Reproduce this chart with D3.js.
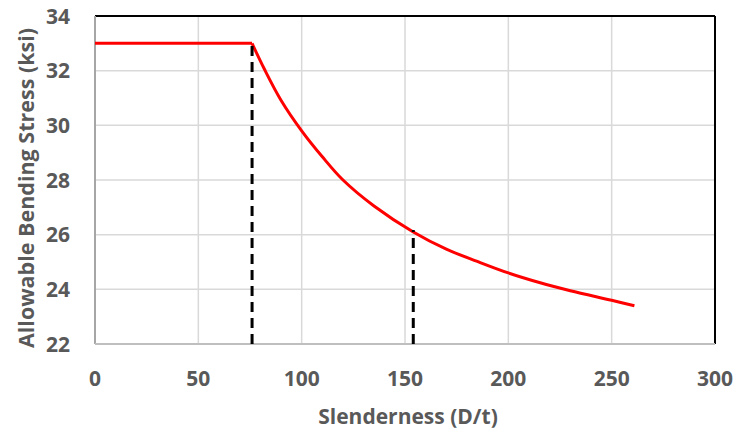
<!DOCTYPE html>
<html>
<head>
<meta charset="utf-8">
<script src="https://cdn.jsdelivr.net/npm/d3@7"></script>
<style>
  html, body { margin: 0; padding: 0; background: #fff; }
  svg { display: block; }
</style>
</head>
<body>
<svg id="chart" width="735" height="432"></svg>
<script>
// values
const slenderness = [0, 76, 82, 90, 100, 110, 120, 135, 154, 170, 185, 200, 215, 230, 250, 261];
const stress      = [33, 33, 32.05, 30.92, 29.8, 28.85, 28.0, 27.05, 26.1, 25.47, 25.02, 24.6, 24.25, 23.95, 23.6, 23.4];
const limitLines  = [76, 154];           // dashed vertical markers
const xTicks = [0, 50, 100, 150, 200, 250, 300];
const yTicks = [22, 24, 26, 28, 30, 32, 34];

const margin = { top: 16, right: 20, bottom: 88, left: 95 };
const W = 735, H = 432;
const svg = d3.select("#chart");
const font = "'Open Sans', sans-serif";
const grey = "#595959";

const x = d3.scaleLinear().domain([0, 300]).range([margin.left, W - margin.right]);
const y = d3.scaleLinear().domain([22, 34]).range([H - margin.bottom, margin.top]);

// grid
svg.append("g").selectAll("line")
    .data(xTicks)
    .join("line")
    .attr("x1", d => x(d)).attr("x2", d => x(d))
    .attr("y1", y(22)).attr("y2", y(34))
    .attr("stroke", "#d9d9d9").attr("stroke-width", 1.5);

svg.append("g").selectAll("line")
    .data(yTicks)
    .join("line")
    .attr("x1", x(0)).attr("x2", x(300))
    .attr("y1", d => y(d)).attr("y2", d => y(d))
    .attr("stroke", "#d9d9d9").attr("stroke-width", 1.5);

// frame: black top/right, grey axis lines left/bottom
svg.append("line")
    .attr("x1", x(0)).attr("x2", x(300)).attr("y1", y(34)).attr("y2", y(34))
    .attr("stroke", "#000").attr("stroke-width", 2);
svg.append("line")
    .attr("x1", x(300)).attr("x2", x(300)).attr("y1", y(34)).attr("y2", y(22))
    .attr("stroke", "#000").attr("stroke-width", 2);
svg.append("line")
    .attr("x1", x(0)).attr("x2", x(0)).attr("y1", y(34)).attr("y2", y(22))
    .attr("stroke", "#a6a6a6").attr("stroke-width", 2);
svg.append("line")
    .attr("x1", x(0)).attr("x2", x(300)).attr("y1", y(22)).attr("y2", y(22))
    .attr("stroke", "#bfbfbf").attr("stroke-width", 2);

// tick labels
svg.append("g").selectAll("text")
    .data(xTicks)
    .join("text")
    .attr("x", d => x(d))
    .attr("y", 386)
    .attr("text-anchor", "middle")
    .attr("font-family", font).attr("font-weight", 700).attr("font-size", "21px")
    .attr("fill", grey)
    .text(d => d);

svg.append("g").selectAll("text")
    .data(yTicks)
    .join("text")
    .attr("x", 70)
    .attr("y", d => y(d))
    .attr("dy", "0.36em")
    .attr("text-anchor", "end")
    .attr("font-family", font).attr("font-weight", 700).attr("font-size", "21px")
    .attr("fill", grey)
    .text(d => d);

// axis titles
svg.append("text")
    .attr("x", x(150) + 3)
    .attr("y", 424)
    .attr("text-anchor", "middle")
    .attr("font-family", font).attr("font-weight", 700).attr("font-size", "21px")
    .attr("fill", grey)
    .text("Slenderness (D/t)");

svg.append("text")
    .attr("transform", "translate(34,188) rotate(-90)")
    .attr("text-anchor", "middle")
    .attr("font-family", font).attr("font-weight", 700).attr("font-size", "21.5px")
    .attr("fill", grey)
    .text("Allowable Bending Stress (ksi)");

// curve: flat plateau, then the smooth decay
const pts = slenderness.map((d, i) => [d, stress[i]]);

svg.append("path")
    .datum(pts.slice(0, 2))
    .attr("d", d3.line().x(d => x(d[0])).y(d => y(d[1])))
    .attr("fill", "none").attr("stroke", "#ff0000").attr("stroke-width", 3);
svg.append("path")
    .datum(pts.slice(1))
    .attr("d", d3.line().x(d => x(d[0])).y(d => y(d[1])).curve(d3.curveCatmullRom.alpha(0.5)))
    .attr("fill", "none").attr("stroke", "#ff0000").attr("stroke-width", 3)
    .attr("stroke-linejoin", "round");

// dashed limit lines up to the curve
const stressAt = v => {
    const i = slenderness.indexOf(v);
    return i >= 0 ? stress[i] : 22;
};
svg.append("g").selectAll("line")
    .data(limitLines)
    .join("line")
    .attr("x1", d => x(d)).attr("x2", d => x(d))
    .attr("y1", y(22))
    .attr("y2", d => y(stressAt(d)) - 2)
    .attr("stroke", "#000").attr("stroke-width", 3)
    .attr("stroke-dasharray", "10 6");
</script>
</body>
</html>
